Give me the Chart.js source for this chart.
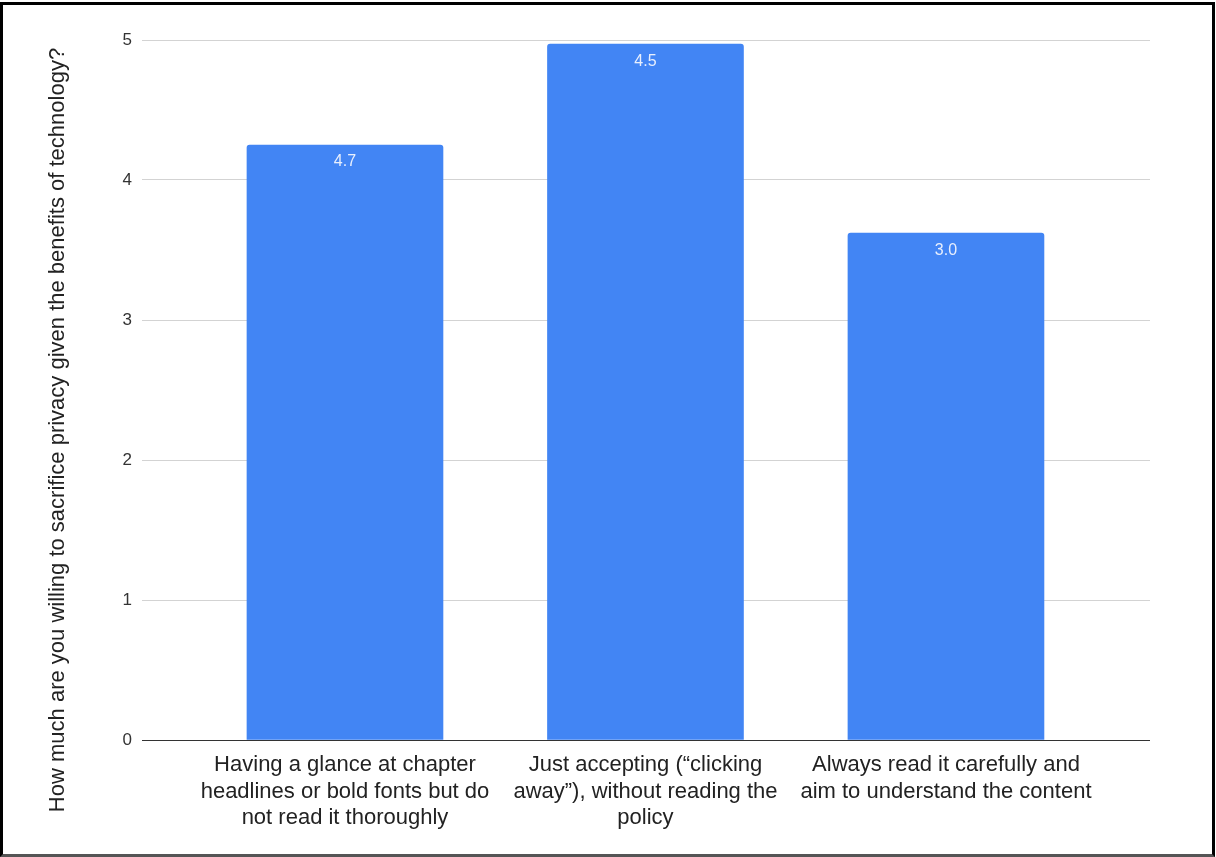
<!DOCTYPE html>
<html>
<head>
<meta charset="utf-8">
<script src="https://cdn.jsdelivr.net/npm/chart.js@4.4.1/dist/chart.umd.min.js"></script>
<style>
  html, body { margin: 0; padding: 0; background: #fff; }
  #wrap { position: relative; width: 1216px; height: 857px; }
  #frame {
    position: absolute; left: 0; top: 2px; width: 1215px; height: 855px;
    box-sizing: border-box; border: 3px solid #000; border-bottom-color: #555;
    pointer-events: none;
  }
</style>
</head>
<body>
<div id="wrap">
  <canvas id="chart" width="1216" height="857"></canvas>
  <div id="frame"></div>
</div>
<script>
const categories = [
  ['Having a glance at chapter', 'headlines or bold fonts but do', 'not read it thoroughly'],
  ['Just accepting (\u201cclicking', 'away\u201d), without reading the', 'policy'],
  ['Always read it carefully and', 'aim to understand the content']
];
const barValues = [4.25, 4.97, 3.62];
const barLabels = ['4.7', '4.5', '3.0'];
const yTicks = [0, 1, 2, 3, 4, 5];
const yTitle = 'How much are you willing to sacrifice privacy given the benefits of technology?';

const FONT = '"Liberation Sans", Arial, sans-serif';

// white value labels just inside the top of each bar
const barText = {
  id: 'barText',
  afterDatasetsDraw(chart) {
    const ctx = chart.ctx;
    const meta = chart.getDatasetMeta(0);
    ctx.save();
    ctx.fillStyle = '#e8effd';
    ctx.font = '16px ' + FONT;
    ctx.textAlign = 'center';
    ctx.textBaseline = 'middle';
    meta.data.forEach((bar, i) => {
      ctx.fillText(barLabels[i], bar.x, bar.y + 17);
    });
    ctx.restore();
  }
};

// axis title, centred on the whole picture like the original
const sideTitle = {
  id: 'sideTitle',
  afterDraw(chart) {
    const ctx = chart.ctx;
    ctx.save();
    ctx.translate(58, 430);
    ctx.rotate(-Math.PI / 2);
    ctx.fillStyle = '#222';
    ctx.font = '22px ' + FONT;
    ctx.textAlign = 'center';
    ctx.textBaseline = 'middle';
    ctx.fillText(yTitle, 0, 0);
    ctx.restore();
  }
};

new Chart(document.getElementById('chart'), {
  type: 'bar',
  data: {
    datasets: [{
      data: barValues.map((v, i) => ({ x: i, y: v })),
      backgroundColor: '#4285f4',
      borderRadius: { topLeft: 3, topRight: 3 },
      borderSkipped: 'bottom',
      barThickness: 196
    }]
  },
  options: {
    responsive: false,
    animation: false,
    layout: { padding: { top: 40, right: 66, left: 0, bottom: 0 } },
    plugins: { legend: { display: false }, tooltip: { enabled: false } },
    scales: {
      x: {
        type: 'linear',
        offset: false,
        min: -0.6755,
        max: 2.679,
        grid: { display: false, drawTicks: false },
        border: { display: false },
        afterFit: s => { s.height = 117; },
        afterBuildTicks: s => { s.ticks = categories.map((_, i) => ({ value: i })); },
        ticks: {
          includeBounds: false,
          autoSkip: false,
          maxRotation: 0,
          padding: 12,
          color: '#222',
          font: { family: FONT, size: 22, lineHeight: 1.2 },
          callback: v => categories[v]
        }
      },
      y: {
        min: 0,
        max: 5,
        afterFit: s => { s.width = 142; },
        afterBuildTicks: s => { s.ticks = yTicks.map(v => ({ value: v })); },
        grid: {
          drawTicks: false,
          color: c => c.tick && c.tick.value === 0 ? '#333' : '#d3d3d3',
          lineWidth: 1
        },
        border: { display: false },
        ticks: {
          padding: 10,
          color: '#333',
          font: { family: FONT, size: 17 }
        }
      }
    }
  },
  plugins: [barText, sideTitle]
});
</script>
</body>
</html>
